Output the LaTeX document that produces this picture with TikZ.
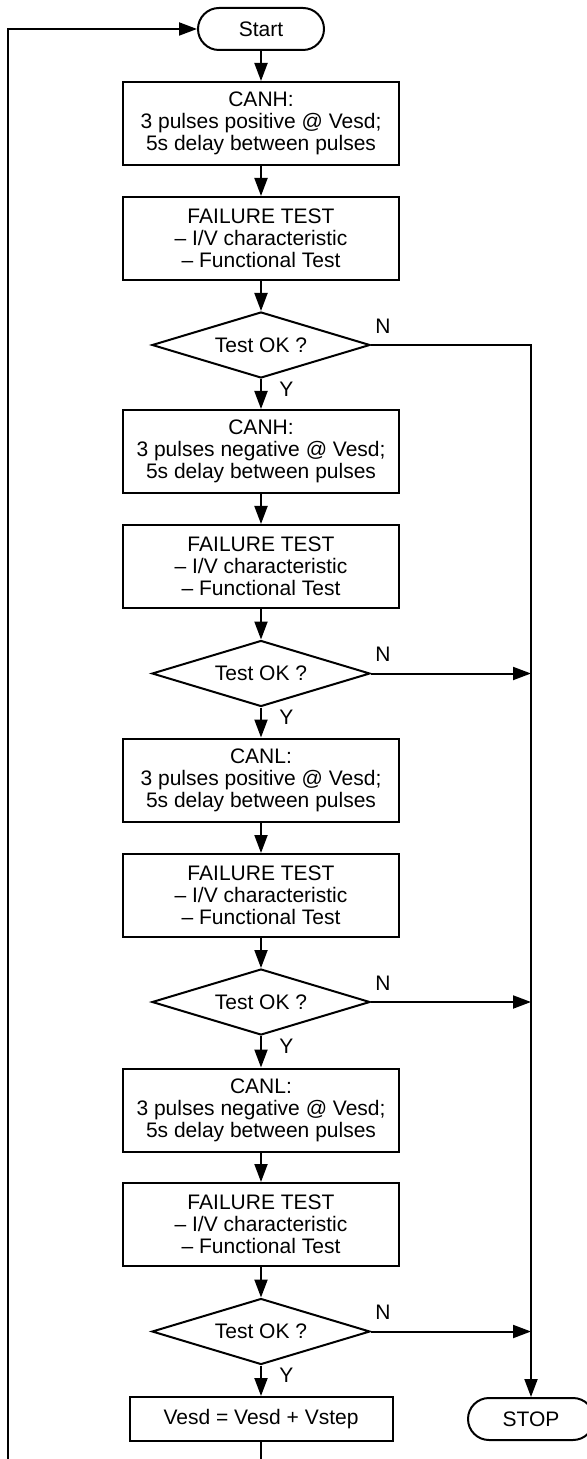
\documentclass[tikz,border=0pt]{standalone}
\usepackage{fontspec}
\setmainfont{Liberation Sans}
\usetikzlibrary{arrows.meta,shapes.geometric}
\tikzset{
	stepbox/.style={draw, line width=1pt, minimum width=138pt, minimum height=41.5pt, inner sep=0pt, align=center},
	termbox/.style={draw, line width=1pt, rounded corners=10.5pt, minimum width=63pt, minimum height=21pt, inner sep=0pt},
	testbox/.style={draw, diamond, aspect=3.3, line width=1pt, minimum width=109pt, minimum height=33pt, inner sep=0pt},
	flow/.style={line width=1pt, -{Triangle[length=9pt,width=6.5pt]}},
	wire/.style={line width=1pt},
	yn/.style={inner sep=0pt, anchor=west}
}

\begin{document}
\begin{tikzpicture}[x=0.5pt, y=-0.5pt, font=\fontsize{10.5pt}{11pt}\selectfont]
			%%%%% START %%%%%
			\useasboundingbox (0, 0) rectangle (587, 1459);
			
			\node[termbox] (start) at (261, 29) {Start};
			
			\node[stepbox] (canhpos) at (261, 123.5) {CANH:\\3 pulses positive @ Vesd;\\5s delay between pulses};
			\node[stepbox] (fail1) at (261, 238.5) {FAILURE TEST\\-- I/V characteristic\\-- Functional Test};
			\node[testbox] (ok1) at (261, 345) {Test OK ?};
			
			\node[stepbox] (canhneg) at (261, 451.5) {CANH:\\3 pulses negative @ Vesd;\\5s delay between pulses};
			\node[stepbox] (fail2) at (261, 566.5) {FAILURE TEST\\-- I/V characteristic\\-- Functional Test};
			\node[testbox] (ok2) at (261, 673.5) {Test OK ?};
			
			\node[stepbox] (canlpos) at (261, 780) {CANL:\\3 pulses positive @ Vesd;\\5s delay between pulses};
			\node[stepbox] (fail3) at (261, 895.5) {FAILURE TEST\\-- I/V characteristic\\-- Functional Test};
			\node[testbox] (ok3) at (261, 1002) {Test OK ?};
			
			\node[stepbox] (canlneg) at (261, 1110) {CANL:\\3 pulses negative @ Vesd;\\5s delay between pulses};
			\node[stepbox] (fail4) at (261, 1224.5) {FAILURE TEST\\-- I/V characteristic\\-- Functional Test};
			\node[testbox] (ok4) at (261, 1331.5) {Test OK ?};
			
			\node[stepbox, minimum width=131.5pt, minimum height=22pt] (vstep) at (261, 1419) {Vesd = Vesd + Vstep};
			\node[termbox] (stop) at (531, 1419) {STOP};
			
			\coordinate (loopend) at (8, 1459);
			\coordinate (stepend) at (261, 1459);
			
			% main column
			\draw[flow] (start) -- (canhpos);
			\draw[flow] (canhpos) -- (fail1);
			\draw[flow] (fail1) -- (ok1);
			\draw[flow] (ok1) -- (canhneg);
			\draw[flow] (canhneg) -- (fail2);
			\draw[flow] (fail2) -- (ok2);
			\draw[flow] (ok2) -- (canlpos);
			\draw[flow] (canlpos) -- (fail3);
			\draw[flow] (fail3) -- (ok3);
			\draw[flow] (ok3) -- (canlneg);
			\draw[flow] (canlneg) -- (fail4);
			\draw[flow] (fail4) -- (ok4);
			\draw[flow] (ok4) -- (vstep);
			
			% failure branch down to STOP
			\draw[flow] (ok1.east) -| (stop.north);
			\draw[flow] (ok2.east) -- (ok2.east -| stop.north);
			\draw[flow] (ok3.east) -- (ok3.east -| stop.north);
			\draw[flow] (ok4.east) -- (ok4.east -| stop.north);
			
			% loop back to start
			\draw[wire] (vstep.south) -- (stepend);
			\draw[flow] (loopend) |- (start.west);
			
			\node[yn] at ([xshift=2pt, yshift=9.5pt]ok1.east) {N};
			\node[yn] at ([xshift=2pt, yshift=9.5pt]ok2.east) {N};
			\node[yn] at ([xshift=2pt, yshift=9.5pt]ok3.east) {N};
			\node[yn] at ([xshift=2pt, yshift=9.5pt]ok4.east) {N};
			\node[yn] at ([xshift=9pt, yshift=-5pt]ok1.south) {Y};
			\node[yn] at ([xshift=9pt, yshift=-5pt]ok2.south) {Y};
			\node[yn] at ([xshift=9pt, yshift=-5pt]ok3.south) {Y};
			\node[yn] at ([xshift=9pt, yshift=-5pt]ok4.south) {Y};
			
			%%%%% END %%%%%
\end{tikzpicture}
\end{document}
